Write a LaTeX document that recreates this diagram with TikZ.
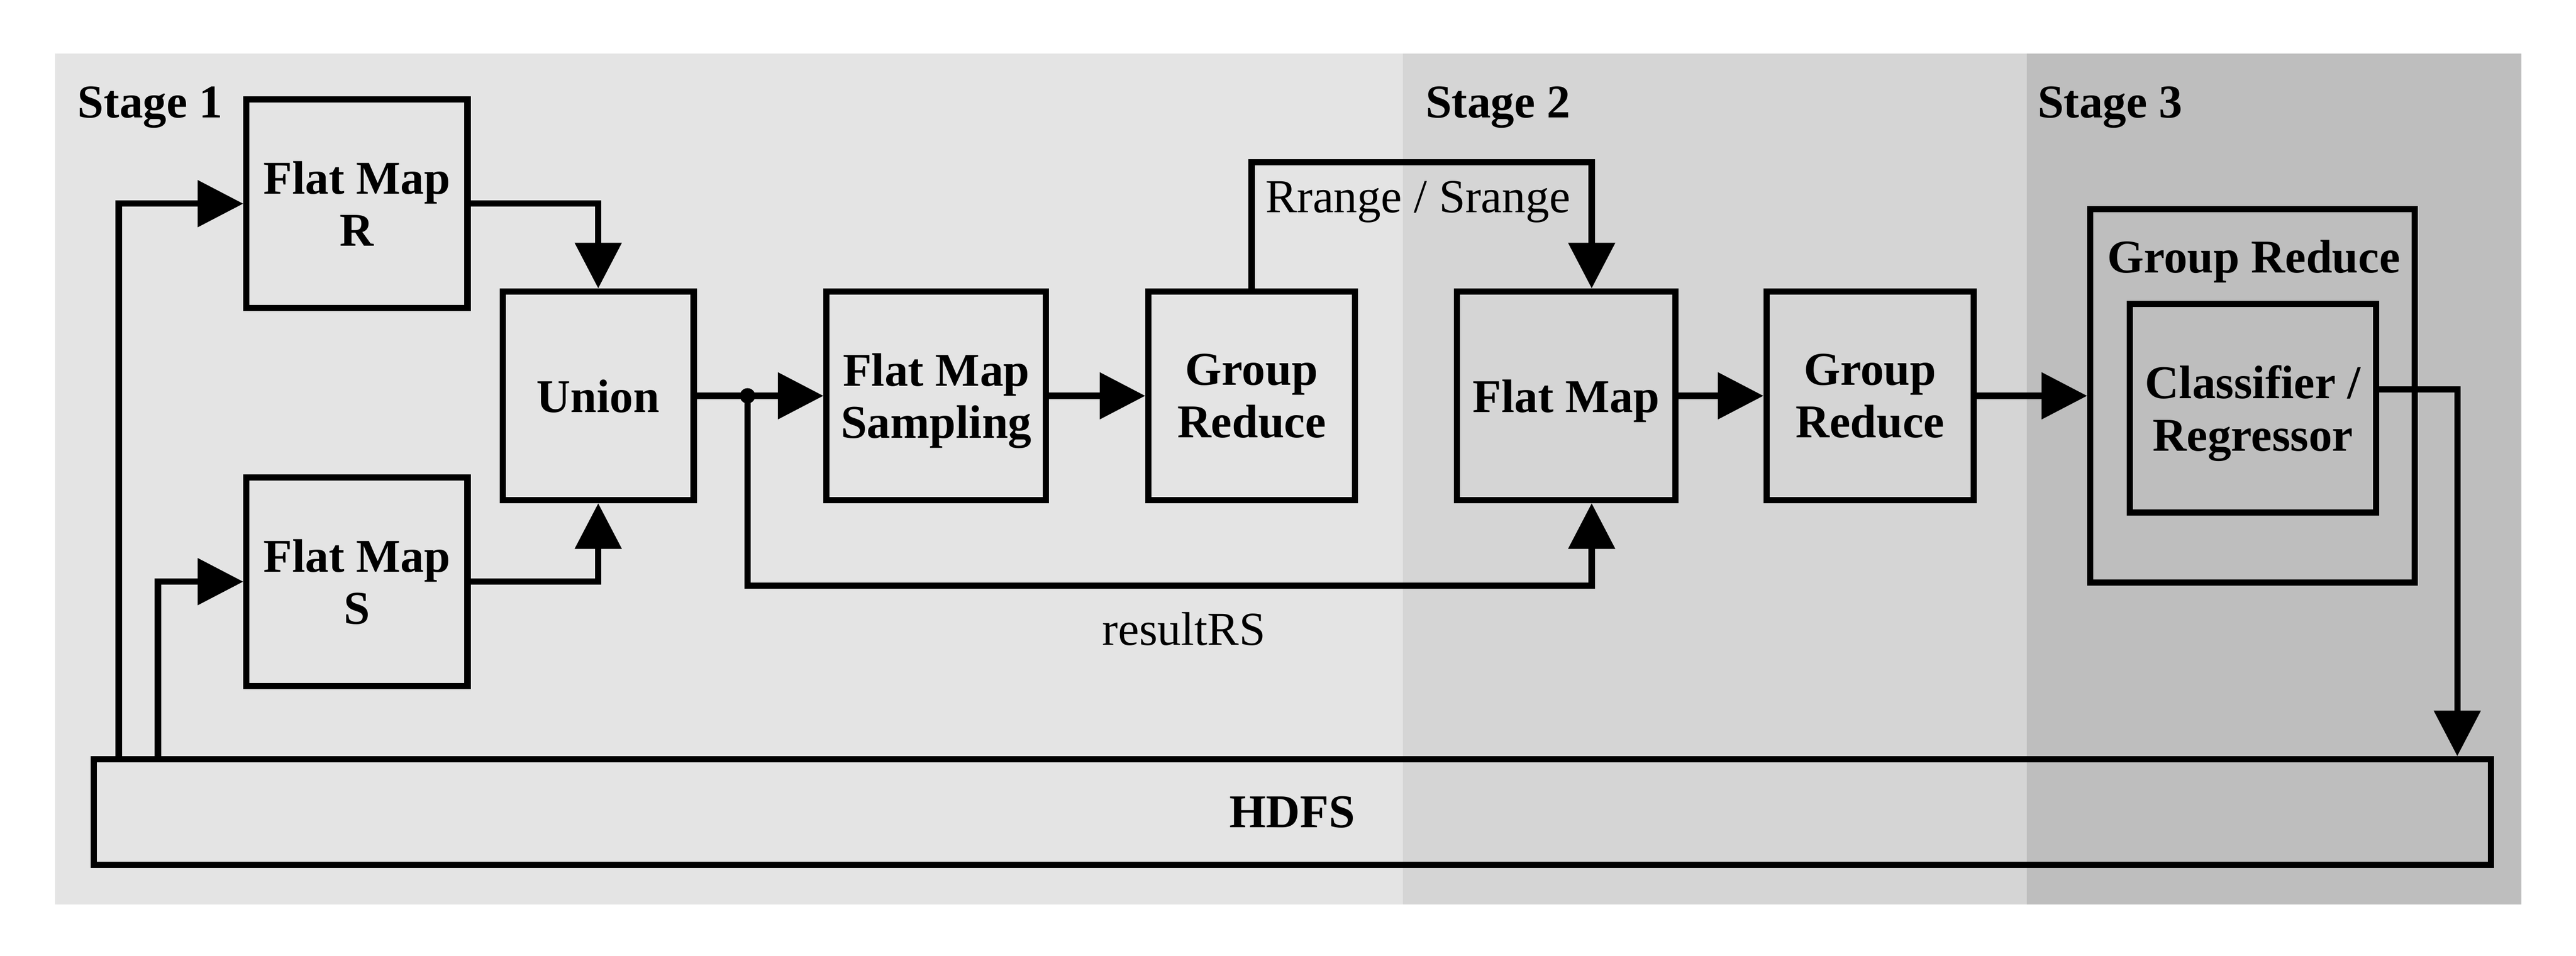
\documentclass[tikz,border=0pt]{standalone}
\usepackage{fontspec}
\setmainfont{Liberation Serif}
\usepackage{xcolor}
\usepackage{tikz}
\usetikzlibrary{arrows.meta}

\definecolor{stageone}{RGB}{228,228,228}
\definecolor{stagetwo}{RGB}{213,213,213}
\definecolor{stagethree}{RGB}{190,190,190}

\begin{document}
\begin{tikzpicture}[
  box/.style={draw, line width=1.8pt, align=center, inner sep=2pt, text depth=0pt, font=\fontsize{13.5}{15}\selectfont\bfseries},
  boxtitle/.style={anchor=base, inner sep=0pt, font=\fontsize{13.5}{15}\selectfont\bfseries},
  stagelbl/.style={anchor=base west, inner sep=0pt, font=\fontsize{13.5}{15}\selectfont\bfseries},
  lbl/.style={anchor=base, inner sep=0pt, font=\fontsize{13.6}{15}\selectfont},
  flow/.style={line width=1.8pt, -{Triangle[length=0.46cm, width=0.46cm]}}
]
  \useasboundingbox (0,0) rectangle (26,9.648);

  % Stage backgrounds
  \fill[stageone] (0.555,0.516) rectangle (14.158,9.106);
  \fill[stagetwo] (14.158,0.516) rectangle (20.459,9.106);
  \fill[stagethree] (20.459,0.516) rectangle (25.450,9.106);
  \node[stagelbl] (s1) at (0.778,8.459) {Stage 1};
  \node[stagelbl] (s2) at (14.382,8.459) {Stage 2};
  \node[stagelbl] (s3) at (20.559,8.459) {Stage 3};

  % Stage 1
  \node[box, minimum width=2.232cm, minimum height=2.106cm] (fmr) at (3.603,7.592) {Flat Map\\R};
  \node[box, minimum width=2.232cm, minimum height=2.106cm] (fms) at (3.603,3.776) {Flat Map\\S};
  \node[box, minimum width=1.927cm, minimum height=2.106cm] (union) at (6.038,5.652) {Union};
  \node[box, minimum width=2.215cm, minimum height=2.106cm] (samp) at (9.450,5.652) {Flat Map\\Sampling};
  \node[box, minimum width=2.084cm, minimum height=2.106cm] (grpa) at (12.633,5.652) {Group\\Reduce};

  % Stage 2
  \node[box, minimum width=2.205cm, minimum height=2.106cm] (fmap) at (15.808,5.652) {Flat Map};
  \node[box, minimum width=2.089cm, minimum height=2.106cm] (grpb) at (18.875,5.652) {Group\\Reduce};

  % Stage 3
  \node[box, minimum width=3.275cm, minimum height=3.768cm] (outer) at (22.735,5.652) {};
  \node[boxtitle] (outerlbl) at (22.747,6.895) {Group Reduce};
  \node[box, minimum width=2.487cm, minimum height=2.106cm] (clf) at (22.739,5.527) {Classifier /\\Regressor};

  % Storage
  \node[box, minimum width=24.198cm, minimum height=1.065cm] (hdfs) at (13.044,1.450) {HDFS};

  % Reads
  \draw[flow] ([xshift=0.285cm]hdfs.north west) |- (fmr.west);
  \draw[flow] ([xshift=0.68cm]hdfs.north west) |- (fms.west);
  \draw[flow] (fmr.east) -| (union.north);
  \draw[flow] (fms.east) -| (union.south);

  % Main flow
  \coordinate (split) at (7.545,5.652);
  \draw[line width=1.8pt] (union.east) -- (split);
  \draw[flow] (split) -- (samp.west);
  \fill (split) circle (2.2pt);
  \draw[flow] (samp.east) -- (grpa.west);
  \draw[flow] (grpa.north) -- ++(0,1.272) -| ([xshift=0.257cm]fmap.north);
  \draw[flow] (split) -- ++(0,-1.916) -| ([xshift=0.257cm]fmap.south);
  \draw[flow] (fmap.east) -- (grpb.west);
  \draw[flow] (grpb.east) -- (outer.west);

  % Write back
  \draw[flow] ([yshift=0.19cm]clf.east) -| ([xshift=-0.373cm]hdfs.north east);

  % Labels
  \node[lbl] (ranges) at (14.312,7.504) {Rrange / Srange};
  \node[lbl] (resrs) at (11.949,3.136) {resultRS};
\end{tikzpicture}
\end{document}
